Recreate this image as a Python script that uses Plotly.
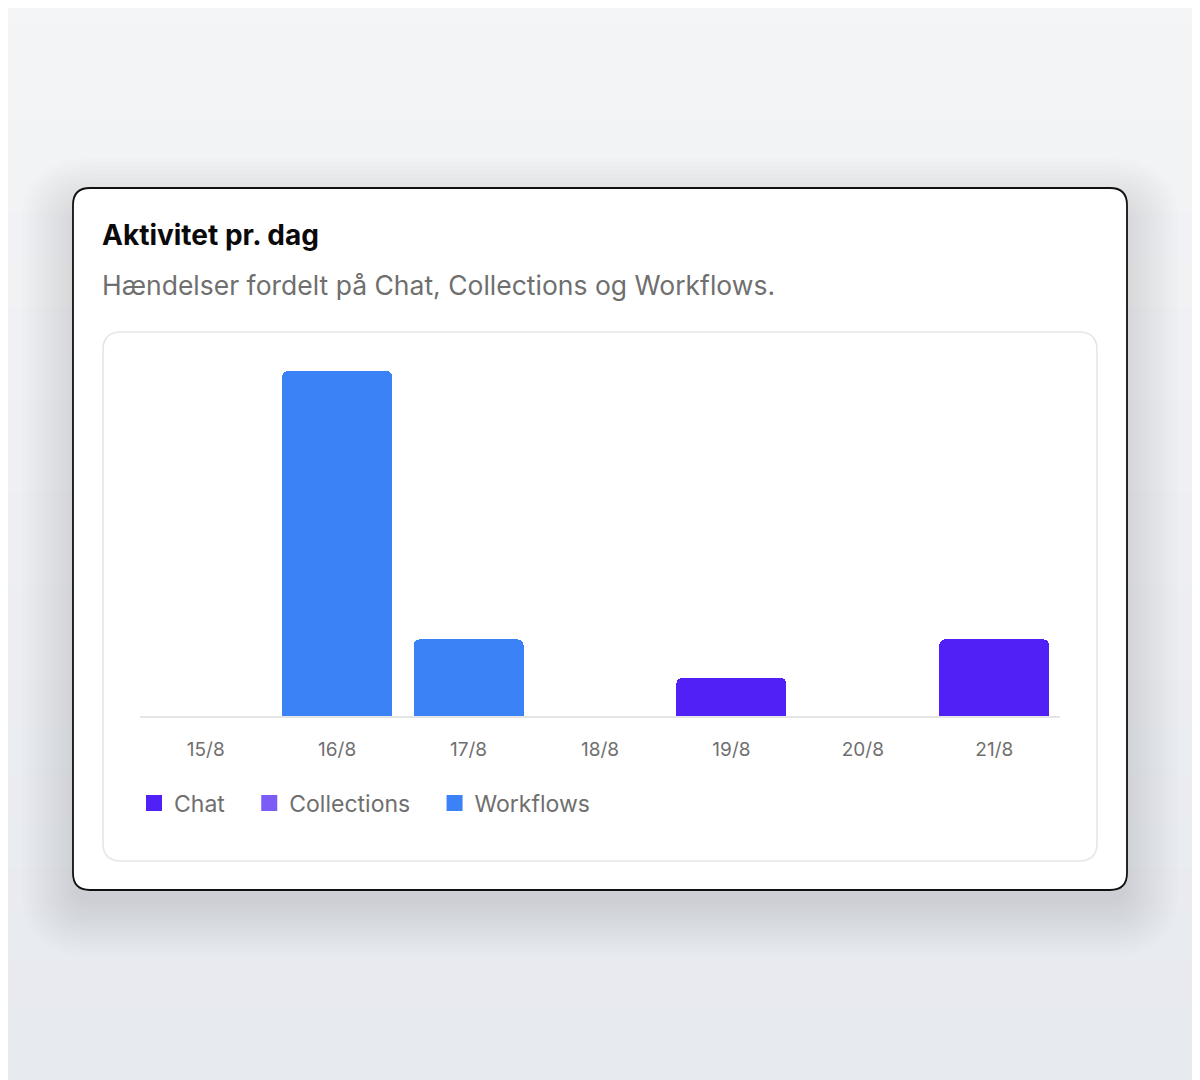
import plotly.graph_objects as go

# data
days = ["15/8", "16/8", "17/8", "18/8", "19/8", "20/8", "21/8"]
chat = [0, 0, 0, 0, 1, 0, 2]
collections = [0, 0, 0, 0, 0, 0, 0]
workflows = [0, 9, 2, 0, 0, 0, 0]

series = [
    ("Chat", chat, "#5020f6"),
    ("Collections", collections, "#7b5cf6"),
    ("Workflows", workflows, "#3b82f6"),
]

W, H = 1200, 1080
S = 8  # page offset of the figure in the browser
# plot area, in screen pixels
X0, X1, Y0, Y1 = 140, 1060, 371, 716
L, R, T, B = X0 - S, W - (X1 - S), Y0 - S, H - (Y1 - S)
PW, PH = X1 - X0, Y1 - Y0


def px(x):
    return (x - X0) / PW


def py(y):
    return (Y1 - y) / PH


def rrect(x0, y0, x1, y1, r):
    pts = [
        ("M", [(x0 + r, y0)]),
        ("L", [(x1 - r, y0)]),
        ("Q", [(x1, y0), (x1, y0 + r)]),
        ("L", [(x1, y1 - r)]),
        ("Q", [(x1, y1), (x1 - r, y1)]),
        ("L", [(x0 + r, y1)]),
        ("Q", [(x0, y1), (x0, y1 - r)]),
        ("L", [(x0, y0 + r)]),
        ("Q", [(x0, y0), (x0 + r, y0)]),
    ]
    s = ""
    for cmd, ps in pts:
        s += cmd + " " + " ".join("%.5f,%.5f" % (px(a), py(b)) for a, b in ps) + " "
    return s + "Z"


fig = go.Figure()

pad = "\u00a0\u00a0\u00a0"
for name, vals, color in series:
    fig.add_trace(go.Bar(
        x=days, y=vals, name=name, marker_color=color,
        marker_line_width=0, marker_cornerradius=6, showlegend=False,
    ))
    # legend entry
    fig.add_trace(go.Scatter(
        x=[days[0]], y=[None], mode="markers", name=name + pad,
        marker=dict(symbol="square", size=16, color=color, line_width=0),
    ))

shapes = []
# page background gradient
bands = 24
for i in range(bands):
    t = i / (bands - 1)
    c = tuple(int(a + (b - a) * t) for a, b in zip((244, 245, 247), (231, 234, 239)))
    shapes.append(dict(type="rect", xref="paper", yref="paper", layer="below",
                       x0=px(-20), x1=px(W + 20),
                       y0=py(-20 + (H + 40) * i / bands), y1=py(-20 + (H + 40) * (i + 1) / bands + 1),
                       fillcolor="rgb(%d,%d,%d)" % c, line_width=0))
# card shadow, soft and mostly below
for i in range(14):
    e = i * 4
    shapes.append(dict(type="path", xref="paper", yref="paper", layer="below",
                       path=rrect(73 - e, 188 - e + 22, 1127 + e, 890 + e + 14, 18 + e),
                       fillcolor="rgba(0,0,0,0.009)", line_width=0))
# card
shapes.append(dict(type="path", xref="paper", yref="paper", layer="below",
                   path=rrect(73, 188, 1127, 890, 17),
                   fillcolor="white", line=dict(color="#111111", width=1.8)))
# inner panel
shapes.append(dict(type="path", xref="paper", yref="paper", layer="below",
                   path=rrect(103, 332, 1097, 861, 18),
                   fillcolor="white", line=dict(color="#e6e6e6", width=1.6)))

fig.add_annotation(text="<b>Aktivitet pr. dag</b>", xref="paper", yref="paper",
                   x=px(100), y=py(235), xanchor="left", yanchor="middle", showarrow=False,
                   font=dict(size=28, color="#0a0a0a", family="Inter"))
fig.add_annotation(text="Hændelser fordelt på Chat, Collections og Workflows.",
                   xref="paper", yref="paper", x=px(100), y=py(285),
                   xanchor="left", yanchor="middle", showarrow=False,
                   font=dict(size=26.5, color="#6f6f6f", family="Inter"))

fig.update_layout(
    width=W, height=H,
    margin=dict(l=L, r=R, t=T, b=B),
    paper_bgcolor="#eef0f3",
    plot_bgcolor="rgba(0,0,0,0)",
    font=dict(family="Inter", color="#6f6f6f"),
    barmode="stack",
    bargap=0.163,
    shapes=shapes,
    legend=dict(orientation="h", traceorder="normal", x=px(134), y=py(803),
                xanchor="left", yanchor="middle",
                font=dict(size=23, color="#6f6f6f"), bgcolor="rgba(0,0,0,0)",
                itemsizing="trace"),
)
fig.update_xaxes(showgrid=False, zeroline=False, showline=True, linecolor="#e5e5e5",
                 linewidth=2, ticks="", tickfont=dict(size=19, color="#6f6f6f"),
                 ticklabelstandoff=15, fixedrange=True)
fig.update_yaxes(range=[0, 9], visible=False, showgrid=False, zeroline=False)

fig.write_html("out.html")
